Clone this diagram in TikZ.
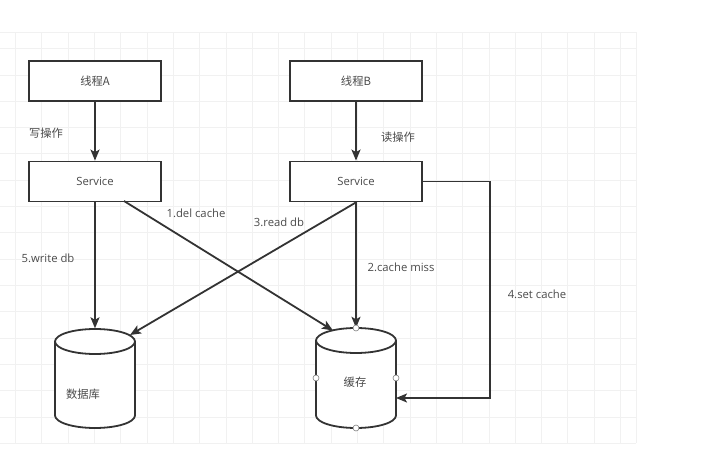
\documentclass[tikz,border=0pt]{standalone}
\usepackage{fontspec}
\setmainfont{Open Sans}
\newfontfamily\cjk{Noto Sans CJK SC}
\usetikzlibrary{arrows.meta}
\definecolor{ln}{HTML}{333333}
\definecolor{tx}{HTML}{4A4A4A}
\definecolor{gridc}{HTML}{F1F1F1}
\begin{document}
\begin{tikzpicture}[x=1pt,y=-1pt,
 box/.style={draw=ln, line width=1.8pt, fill=white, minimum width=132pt, minimum height=40pt, inner sep=0, font=\fontsize{11.3}{13}\selectfont, text=tx},
 lbl/.style={font=\fontsize{11.3}{13}\selectfont, text=tx, inner sep=0},
 conn/.style={draw=ln, line width=1.8pt, -{Stealth[length=11pt,width=9pt,inset=2.5pt]}},
 cylbody/.style={draw=ln, line width=1.8pt, fill=white},
 cylline/.style={draw=ln, line width=1.8pt},
 port/.style={circle, draw=gray, fill=white, line width=0.6pt, inner sep=0, minimum size=6pt},
 gridline/.style={draw=gridc, line width=0.8pt}]
\useasboundingbox (0,0) rectangle (707,457);
% grid
\foreach \i in {0,...,23} {\draw[gridline] (15.5+\i*26.3,32) -- (15.5+\i*26.3,443);}
\foreach \j in {1,...,15} {\draw[gridline] (0,22.4+\j*26.3) -- (636,22.4+\j*26.3);}
\draw[gridline] (0,32) -- (636,32);
\draw[gridline] (0,443) -- (636,443);
\draw[gridline] (636,32) -- (636,443);

% boxes
\node[box] (ta) at (95,81) {\cjk 线程A};
\node[box] (tb) at (356,81) {\cjk 线程B};
\node[box] (sa) at (95,181.5) {Service};
\node[box] (sb) at (356,181.5) {Service};

% cylinders
\node[minimum width=80pt, minimum height=100pt, inner sep=0] (db) at (95,378.5) {};
\path[cylbody] (55,341.5) -- (55,415.5) .. controls (55,422.4) and (72.9,428) .. (95,428) .. controls (117.1,428) and (135,422.4) .. (135,415.5) -- (135,341.5) .. controls (135,334.6) and (117.1,329) .. (95,329) .. controls (72.9,329) and (55,334.6) .. (55,341.5) -- cycle;
\path[cylline] (55,341.5) .. controls (55,348.4) and (72.9,354) .. (95,354) .. controls (117.1,354) and (135,348.4) .. (135,341.5);
\node[lbl] (dbl) at (83,394) {\cjk 数据库};

\node[minimum width=80pt, minimum height=100pt, inner sep=0] (cache) at (356,378) {};
\path[cylbody] (316,340.5) -- (316,415.5) .. controls (316,422.4) and (333.9,428) .. (356,428) .. controls (378.1,428) and (396,422.4) .. (396,415.5) -- (396,340.5) .. controls (396,333.6) and (378.1,328) .. (356,328) .. controls (333.9,328) and (316,333.6) .. (316,340.5) -- cycle;
\path[cylline] (316,340.5) .. controls (316,347.4) and (333.9,353) .. (356,353) .. controls (378.1,353) and (396,347.4) .. (396,340.5);
\node[lbl] (cl) at (355,382) {\cjk 缓存};

% coordinates
\coordinate (saDel) at (124,201);
\coordinate (cacheTL) at (333,330.5);
\coordinate (dbTR) at (130,335);
\coordinate (sbR) at (422,181.5);
\coordinate (bend1) at (490,181.5);
\coordinate (bend2) at (490,398);
\coordinate (cacheR) at (396,398);

% connectors
\draw[conn] (ta.south) -- (sa.north);
\draw[conn] (tb.south) -- (sb.north);
\draw[conn] (sa.south) -- (db.north);
\draw[conn] (saDel) -- (cacheTL);
\draw[conn] (sb.south) -- (dbTR);
\draw[conn] (sb.south) -- (cache.north);
\draw[conn] (sbR) -- (bend1) -- (bend2) -- (cacheR);

% labels
\node[lbl] (w) at (46,133) {\cjk 写操作};
\node[lbl] (r) at (398,137) {\cjk 读操作};
\node[lbl] (l1) at (196,213) {1.del cache};
\node[lbl] (l3) at (279,222) {3.read db};
\node[lbl] (l5) at (48,258) {5.write db};
\node[lbl] (l2) at (401,267) {2.cache miss};
\node[lbl] (l4) at (537,294) {4.set cache};

% ports
\node[port] (p1) at (356,328) {};
\node[port] (p2) at (316,378) {};
\node[port] (p3) at (396,378) {};
\node[port] (p4) at (356,428) {};
\end{tikzpicture}
\end{document}
